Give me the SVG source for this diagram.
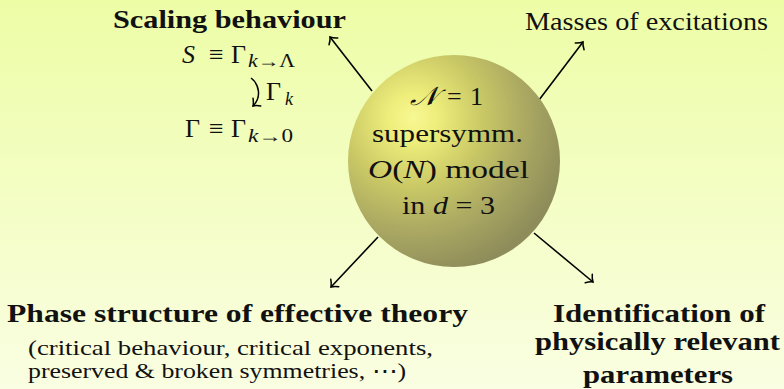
<svg xmlns="http://www.w3.org/2000/svg" width="784" height="389" viewBox="0 0 784 389" font-family="'Liberation Serif', 'Times New Roman', 'DejaVu Serif', serif">
<defs>
<linearGradient id="bg" x1="0" y1="0" x2="0" y2="1">
<stop offset="0" stop-color="#edfda6"/>
<stop offset="1" stop-color="#fafee2"/>
</linearGradient>
<radialGradient id="ball" gradientUnits="userSpaceOnUse" cx="413" cy="118" r="160" fx="413" fy="118">
<stop offset="0" stop-color="#f8f894"/>
<stop offset="0.15" stop-color="#eeee7c"/>
<stop offset="0.42" stop-color="#cbca66"/>
<stop offset="0.7" stop-color="#aba962"/>
<stop offset="1" stop-color="#8e8c5a"/>
</radialGradient>
<marker id="to" markerUnits="userSpaceOnUse" markerWidth="16" markerHeight="16" viewBox="-8 -8 16 16" refX="0" refY="0" orient="auto" overflow="visible">
<path d="M-5.5,-5.5 C-3,-2 -1,-0.6 0,0 C-1,0.6 -3,2 -5.5,5.5" fill="none" stroke="#000" stroke-width="1.5" stroke-linecap="round"/>
</marker>
<style>
text{font-family:'Liberation Serif','Times New Roman','DejaVu Serif',serif;fill:#111;}
.b{font-weight:bold;font-size:25px;}
.n{font-size:25px;}
.p{font-size:21px;}
.c{font-size:26px;}
.m{font-size:26px;}
.s{font-size:18px;}
.i{font-style:italic;}
.arr{fill:none;stroke:#000;stroke-width:1.6;marker-end:url(#to);}
</style>
</defs>
<rect width="784" height="389" fill="url(#bg)"/>

<g id="connectors">
<line class="arr" x1="372" y1="91" x2="330" y2="37"/>
<line class="arr" x1="539" y1="100" x2="583" y2="42"/>
<line class="arr" x1="378" y1="237" x2="331" y2="287"/>
<line class="arr" x1="534" y1="233" x2="593" y2="282"/>
</g>

<g id="center">
<circle cx="454" cy="161" r="106" fill="url(#ball)"/>
<text class="c i" x="410" y="105" textLength="28" lengthAdjust="spacingAndGlyphs">𝒩</text>
<text class="c" x="447" y="105">=</text>
<text class="c" x="470" y="105">1</text>
<text class="c" x="372" y="142" textLength="151" lengthAdjust="spacingAndGlyphs">supersymm.</text>
<text class="c" x="368" y="178" textLength="161" lengthAdjust="spacingAndGlyphs"><tspan class="i">O</tspan>(<tspan class="i">N</tspan>) model</text>
<text class="c" x="402" y="214" textLength="93" lengthAdjust="spacingAndGlyphs">in <tspan class="i">d</tspan> = 3</text>
</g>

<g id="scaling">
<text class="b" x="113" y="28" textLength="233" lengthAdjust="spacingAndGlyphs">Scaling behaviour</text>
<text class="m i" x="182" y="63">S</text>
<text class="m" x="209" y="63">≡</text>
<text class="m" x="231" y="63">Γ</text>
<text class="s" x="248" y="67" textLength="47" lengthAdjust="spacingAndGlyphs"><tspan class="i">k</tspan>→Λ</text>
<path d="M251,78 C259,84 262,97 253,106" fill="none" stroke="#000" stroke-width="1.5" marker-end="url(#to)"/>
<text class="m" x="266" y="100">Γ</text>
<text class="s i" x="285" y="105">k</text>
<text class="m" x="185" y="137">Γ</text>
<text class="m" x="209" y="137">≡</text>
<text class="m" x="231" y="137">Γ</text>
<text class="s" x="248" y="142" textLength="45" lengthAdjust="spacingAndGlyphs"><tspan class="i">k</tspan>→0</text>
</g>

<g id="masses">
<text class="n" x="525" y="30" textLength="243" lengthAdjust="spacingAndGlyphs">Masses of excitations</text>
</g>

<g id="phase">
<text class="b" x="7" y="322" textLength="461" lengthAdjust="spacingAndGlyphs">Phase structure of effective theory</text>
<text class="p" x="28" y="355" textLength="405" lengthAdjust="spacingAndGlyphs">(critical behaviour, critical exponents,</text>
<text class="p" x="28" y="378" textLength="378" lengthAdjust="spacingAndGlyphs">preserved &amp; broken symmetries, ⋯)</text>
</g>

<g id="identification">
<text class="b" x="553" y="322" textLength="212" lengthAdjust="spacingAndGlyphs">Identification of</text>
<text class="b" x="535" y="350" textLength="245" lengthAdjust="spacingAndGlyphs">physically relevant</text>
<text class="b" x="583" y="383" textLength="150" lengthAdjust="spacingAndGlyphs">parameters</text>
</g>
</svg>
